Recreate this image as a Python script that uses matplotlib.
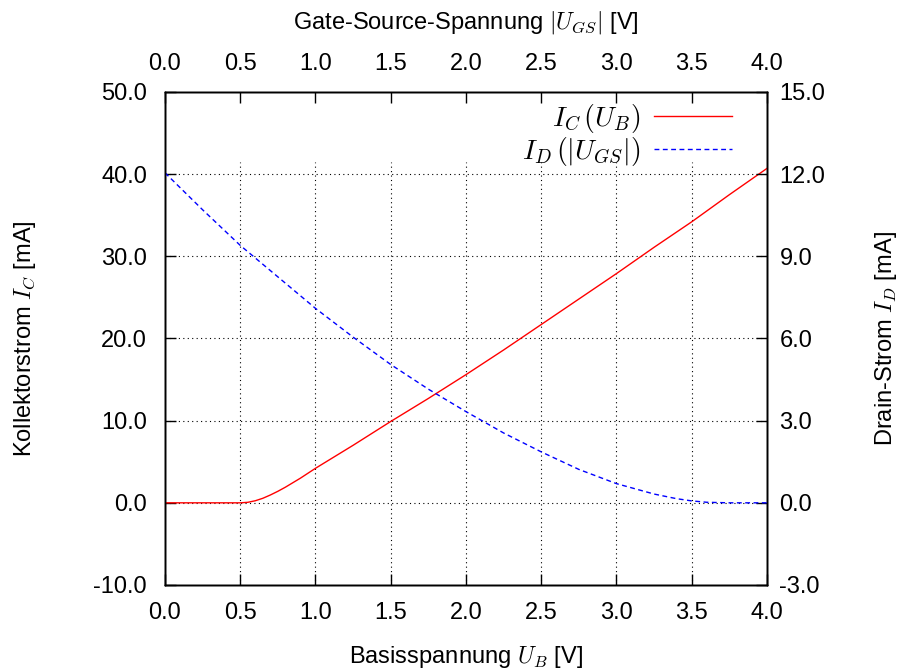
import matplotlib
matplotlib.use('Agg')
import matplotlib.pyplot as plt

# Kollektorstrom I_C [mA] ueber Basisspannung U_B [V]
u_b = [0.0, 0.25, 0.5, 0.55, 0.6, 0.65, 0.7, 0.75, 0.8, 0.9, 1.0, 1.25,
       1.5, 1.75, 2.0, 2.25, 2.5, 2.75, 3.0, 3.25, 3.5, 3.75, 4.0]
i_c = [0.0, 0.0, 0.0, 0.06, 0.25, 0.55, 0.95, 1.4, 1.9, 3.0, 4.2, 7.0,
       9.9, 12.7, 15.6, 18.6, 21.7, 24.8, 27.9, 31.1, 34.2, 37.5, 40.7]

# Drain-Strom I_D [mA] ueber |U_GS| [V]
u_gs = [0.0, 0.25, 0.5, 0.75, 1.0, 1.25, 1.5, 1.75, 2.0, 2.25, 2.5,
        2.75, 3.0, 3.25, 3.4, 3.5, 3.6, 3.75, 4.0]
i_d = [12.05, 10.7, 9.4, 8.25, 7.1, 6.05, 5.05, 4.15, 3.33, 2.55, 1.86,
       1.22, 0.70, 0.32, 0.15, 0.07, 0.02, 0.0, 0.0]

x_ticks = [0.0, 0.5, 1.0, 1.5, 2.0, 2.5, 3.0, 3.5, 4.0]
left_ticks = [-10.0, 0.0, 10.0, 20.0, 30.0, 40.0, 50.0]
right_ticks = [-3.0, 0.0, 3.0, 6.0, 9.0, 12.0, 15.0]

plt.rcParams['font.family'] = ['Liberation Sans', 'DejaVu Sans']
plt.rcParams['mathtext.fontset'] = 'cm'
plt.rcParams['axes.unicode_minus'] = False
plt.rcParams['font.size'] = 17

fig = plt.figure(figsize=(9, 6.71), dpi=100)
ax = fig.add_axes([0.1833, 0.1282, 0.6689, 0.7347])
ax2 = ax.twinx()
ax3 = ax.twiny()

# Gitter (vertikal nur bis unter die Legende)
for x in x_ticks[1:-1]:
    ax.plot([x, x], [-10, 41.5], color='black', lw=0.8, ls=(0, (1, 3)), zorder=1)
for y in left_ticks[1:-1]:
    ax.axhline(y, color='black', lw=0.8, ls=(0, (1, 3)), zorder=1)

l1, = ax.plot(u_b, i_c, color='red', lw=1.0, label=r'$I_C\,(U_B)$', zorder=3)
l2, = ax2.plot(u_gs, i_d, color='blue', lw=1.0, ls=(0, (3.5, 2.5)),
               label=r'$I_D\,(|U_{GS}|)$', zorder=3)

ax.set_xlim(0, 4)
ax.set_ylim(-10, 50)
ax2.set_ylim(-3, 15)
ax3.set_xlim(0, 4)

ax.set_xticks(x_ticks)
ax.set_xticklabels([f'{v:.1f}' for v in x_ticks])
ax3.set_xticks(x_ticks)
ax3.set_xticklabels([f'{v:.1f}' for v in x_ticks])
ax.set_yticks(left_ticks)
ax.set_yticklabels([f'{v:.1f}' for v in left_ticks])
ax2.set_yticks(right_ticks)
ax2.set_yticklabels([f'{v:.1f}' for v in right_ticks])

for a in (ax, ax2, ax3):
    a.tick_params(direction='in', length=8, width=1.0)
    for s in a.spines.values():
        s.set_linewidth(1.0)
ax.tick_params(axis='x', pad=12)
ax.tick_params(axis='y', pad=13)
ax2.tick_params(axis='y', pad=9)
ax3.tick_params(axis='x', pad=12)

ax.set_xlabel(r'Basisspannung $U_B$ [V]', fontsize=17, labelpad=15)
ax.set_ylabel(r'Kollektorstrom $I_C$ [mA]', fontsize=17, labelpad=40)
ax2.set_ylabel(r'Drain-Strom $I_D$ [mA]', fontsize=17, labelpad=34)
ax3.set_xlabel(r'Gate-Source-Spannung $|U_{GS}|$ [V]', fontsize=17, labelpad=18)

leg = ax2.legend(handles=[l1, l2], loc='upper right', frameon=False,
                 bbox_to_anchor=(0.942, 0.98), borderpad=0.0,
                 borderaxespad=0.0, fontsize=20, markerfirst=False,
                 handlelength=2.8, labelspacing=0.0, handletextpad=0.5)
for t in leg.get_texts():
    t.set_ha('right')

fig.savefig('out.png', dpi=100)
plt.close(fig)
